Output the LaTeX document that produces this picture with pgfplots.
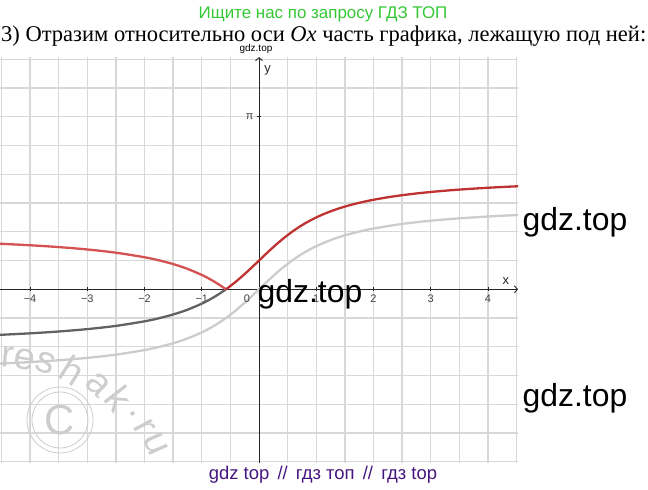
\documentclass[border=0pt]{standalone}
\usepackage{fontspec}
\setmainfont{Liberation Serif}
\newfontfamily\sansf{Liberation Sans}
\usepackage{graphicx}
\usepackage{pgfplots}
\pgfplotsset{compat=1.18}
\usetikzlibrary{arrows.meta}

\definecolor{gridc}{RGB}{216,216,216}
\definecolor{redR}{RGB}{190,50,50}
\definecolor{redL}{RGB}{212,82,82}
\definecolor{darkc}{RGB}{98,98,98}
\definecolor{lightc}{RGB}{204,204,204}
\definecolor{greenc}{RGB}{52,200,52}
\definecolor{purplec}{RGB}{70,22,128}
\definecolor{wmc}{RGB}{205,205,205}

\begin{document}
\begin{tikzpicture}[x=1bp,y=1bp]
\useasboundingbox (0,0) rectangle (648,490);
\begin{axis}[
  at={(259bp,200.7bp)}, anchor=origin,
  scale only axis, width=518bp, height=405.7bp,
  xmin=-4.524, xmax=4.524, ymin=-3.16, ymax=4.23,
  axis lines=middle,
  axis line style={black!85, line width=0.9bp, -{Straight Barb[length=3bp,width=7bp]}},
  xtick={-4,-3,-2,-1,1,2,3,4},
  xticklabels={−4,−3,−2,−1,1,2,3,4},
  minor xtick={-4.5,-3.5,-2.5,-1.5,-0.5,0.5,1.5,2.5,3.5,4.5},
  ytick={3.14159},
  yticklabels={π},
  minor ytick={-3.14159,-2.61799,-2.09440,-1.57080,-1.04720,-0.52360,0.52360,1.04720,1.57080,2.09440,2.61799,3.66519,4.18879},
  grid=both,
  major grid style={gridc, line width=1.3bp},
  minor grid style={gridc, line width=1.3bp},
  major tick length=4bp, minor tick length=0bp,
  tick align=center,
  tick style={black!85, line width=0.8bp},
  ticklabel style={font=\sansf\fontsize{11}{13}\selectfont, text=black!75},
  clip=true,
]
\addplot[lightc, line width=2.3bp, smooth] coordinates {
(-4.55,-1.35448) (-4.5,-1.35213) (-4,-1.32582) (-3.5,-1.29250) (-3,-1.24905)
(-2.5,-1.19029) (-2,-1.10715) (-1.75,-1.05165) (-1.5,-0.98279) (-1.25,-0.89606)
(-1,-0.78540) (-0.8,-0.67474) (-0.6,-0.54042) (-0.4,-0.38051) (-0.2,-0.19740)
(0,0) (0.2,0.19740) (0.4,0.38051) (0.6,0.54042) (0.8,0.67474) (1,0.78540)
(1.25,0.89606) (1.5,0.98279) (1.75,1.05165) (2,1.10715) (2.5,1.19029)
(3,1.24905) (3.5,1.29250) (4,1.32582) (4.5,1.35213) (4.55,1.35448)};
\addplot[darkc, line width=2.3bp, smooth] coordinates {
(-4.55,-0.83088) (-4.5,-0.82853) (-4,-0.80222) (-3.5,-0.76890) (-3,-0.72545)
(-2.5,-0.66669) (-2,-0.58355) (-1.75,-0.52805) (-1.5,-0.45919) (-1.25,-0.37246)
(-1,-0.26180) (-0.9,-0.20922) (-0.8,-0.15114) (-0.7,-0.08713) (-0.6,-0.01682)
(-0.57735,0)};
\addplot[redL, line width=2.3bp, smooth] coordinates {
(-4.55,0.83088) (-4.5,0.82853) (-4,0.80222) (-3.5,0.76890) (-3,0.72545)
(-2.5,0.66669) (-2,0.58355) (-1.75,0.52805) (-1.5,0.45919) (-1.25,0.37246)
(-1,0.26180) (-0.9,0.20922) (-0.8,0.15114) (-0.7,0.08713) (-0.6,0.01682)
(-0.57735,0)};
\addplot[redR, line width=2.3bp, smooth] coordinates {
(-0.57735,0) (-0.5,0.05995) (-0.4,0.14309) (-0.3,0.23214) (-0.2,0.32620)
(-0.1,0.42393) (0,0.52360) (0.1,0.62327) (0.2,0.72100) (0.3,0.81506)
(0.4,0.90411) (0.5,0.98725) (0.6,1.06402) (0.7,1.13433) (0.8,1.19834)
(0.9,1.25642) (1,1.30900) (1.1,1.35658) (1.2,1.39966) (1.3,1.43870)
(1.4,1.47415) (1.5,1.50639) (1.6,1.53580) (1.8,1.58730) (2,1.63075)
(2.25,1.67610) (2.5,1.71389) (2.75,1.74562) (3,1.77265) (3.25,1.79590)
(3.5,1.81610) (3.75,1.83379) (4,1.84942) (4.25,1.86330) (4.5,1.87573)
(4.55,1.87808)};
\node[font=\sansf\fontsize{11}{13}\selectfont, text=black!75] at (axis cs:-0.21,-0.17) {0};
\node[font=\sansf\fontsize{13}{15}\selectfont, text=black!85] at (axis cs:4.31,0.15) {x};
\node[font=\sansf\fontsize{13}{15}\selectfont, text=black!85] at (axis cs:0.15,3.98) {y};
\end{axis}
% watermark reshak.ru
\begin{scope}[font=\sansf\fontsize{38}{38}\selectfont, text=wmc, inner sep=0pt]
\node[rotate=-5] at (8,133) {r};
\node[rotate=-10] at (25,131) {e};
\node[rotate=-18] at (46,127) {s};
\node[rotate=-32] at (73,120) {h};
\node[rotate=-44] at (98,105) {a};
\node[rotate=-52] at (119,91) {k};
\node[rotate=-58] at (133,76) {.};
\node[rotate=-62] at (144,63) {r};
\node[rotate=-66] at (156,46) {u};
\end{scope}
\draw[wmc, line width=0.8bp] (60,70) circle (33);
\draw[wmc, line width=0.8bp] (60,70) circle (28);
\node[font=\sansf\fontsize{42}{42}\selectfont, text=wmc] at (60,70) {C};
% texts
\node[anchor=base, inner sep=0, font=\sansf\fontsize{17}{20}\selectfont, text=greenc] at (323,471.7) {Ищите нас по запросу ГДЗ ТОП};
\node[anchor=base west, inner sep=0] at (1,448) {\resizebox{645bp}{!}{\fontsize{25}{30}\selectfont 3) Отразим относительно оси \textit{Ox} часть графика, лежащую под ней:}};
\node[font=\sansf\fontsize{10}{12}\selectfont] at (256,441) {gdz.top};
\node[font=\sansf\fontsize{32}{36}\selectfont] at (310,196) {gdz.top};
\node[font=\sansf\fontsize{32}{36}\selectfont] at (575,268) {gdz.top};
\node[font=\sansf\fontsize{32}{36}\selectfont] at (575,92) {gdz.top};
\node[font=\sansf\fontsize{18.5}{20}\selectfont, text=purplec] at (323,15) {gdz top \,//\, гдз топ \,//\, гдз top};
\end{tikzpicture}
\end{document}
